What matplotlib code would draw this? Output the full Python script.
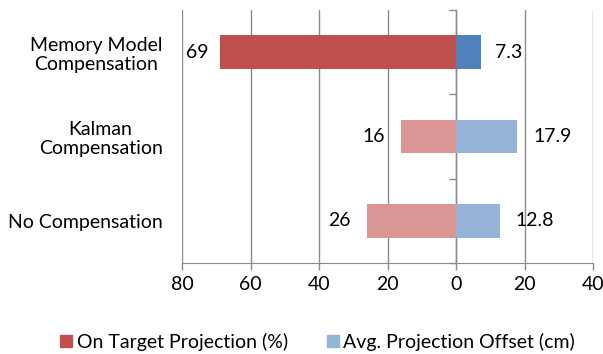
import matplotlib
matplotlib.use("Agg")
import matplotlib.pyplot as plt
from matplotlib.patches import Patch
from matplotlib.ticker import FuncFormatter

plt.rcParams['font.family'] = ['Lato', 'DejaVu Sans']

# Categories listed bottom to top
categories = ["No Compensation", "Kalman\nCompensation", "Memory Model\nCompensation"]
on_target = [26, 16, 69]          # On Target Projection (%)
proj_offset = [12.8, 17.9, 7.3]   # Avg. Projection Offset (cm)
x_ticks = [-80, -60, -40, -20, 0, 20, 40]

red_dark, red_light = "#C0504D", "#D99694"
blue_dark, blue_light = "#4F81BD", "#95B3D7"
grid_col = "#8C8C8C"

# label gaps (points) from bar ends
left_gap = [12, 12, 8]
right_gap = [11.5, 11.5, 10]

fig = plt.figure(figsize=(6.03, 3.54), dpi=100)
ax = fig.add_axes([182/603, 1 - 263/354, (593 - 182)/603, (263 - 10)/354])

ypos = list(range(len(categories)))
highlight = [False, False, True]
left_cols = [red_dark if h else red_light for h in highlight]
right_cols = [blue_dark if h else blue_light for h in highlight]

ax.barh(ypos, [-v for v in on_target], height=0.4, color=left_cols, zorder=2)
ax.barh(ypos, proj_offset, height=0.4, color=right_cols, zorder=2)

fs = 14
for y, v, g in zip(ypos, on_target, left_gap):
    ax.annotate(f"{v:g}", xy=(-v, y), xytext=(-g, 0), textcoords="offset points",
                ha="right", va="center", fontsize=fs)
for y, v, g in zip(ypos, proj_offset, right_gap):
    ax.annotate(f"{v:g}", xy=(v, y), xytext=(g, 0), textcoords="offset points",
                ha="left", va="center", fontsize=fs)

ax.set_xlim(-80, 40)
ax.set_ylim(-0.5, len(categories) - 0.5)
ax.set_xticks(x_ticks)
ax.xaxis.set_major_formatter(FuncFormatter(lambda x, p: f"{abs(x):g}"))
ax.set_yticks(ypos)
ax.set_yticklabels(categories, fontsize=fs)
for lbl in ax.get_yticklabels():
    lbl.set_multialignment("center")
    lbl.set_linespacing(1.15)
ax.tick_params(axis="y", length=0, pad=14)
ax.tick_params(axis="x", length=5, width=1, color=grid_col, labelsize=fs, pad=4)

ax.xaxis.grid(True, color=grid_col, linewidth=1)
ax.set_axisbelow(True)
for side in ("top", "right", "left"):
    ax.spines[side].set_visible(False)
ax.spines["bottom"].set_color(grid_col)

# Category axis drawn at x = 0 with ticks between categories
sec = ax.secondary_yaxis(0, transform=ax.transData)
sec.set_yticks([y - 0.5 for y in ypos] + [len(ypos) - 0.5])
sec.tick_params(axis="y", direction="out", length=5, width=1, color=grid_col,
                labelleft=False, labelright=False)
sec.spines["left"].set_color(grid_col)
sec.spines["left"].set_linewidth(1)

handles = [Patch(color=red_dark, label="On Target Projection (%)"),
           Patch(color=blue_light, label="Avg. Projection Offset (cm)")]
fig.legend(handles=handles, loc="center", bbox_to_anchor=(0.527, 1 - 342/354),
           ncol=2, frameon=False, fontsize=fs, handlelength=0.6, handleheight=0.6,
           handletextpad=0.25, columnspacing=2.0)

fig.savefig("out.png", dpi=100)
